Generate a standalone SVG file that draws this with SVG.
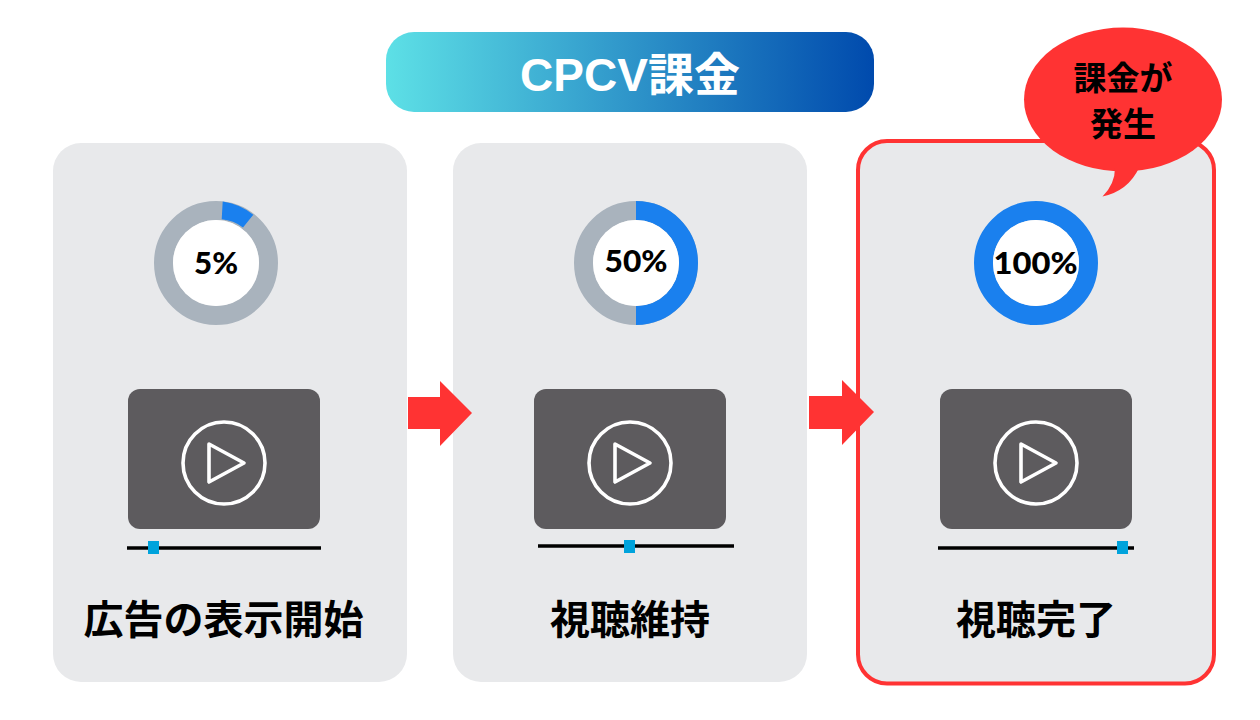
<svg xmlns="http://www.w3.org/2000/svg" width="1260" height="720" viewBox="0 0 1260 720">
<style>
.card{fill:#e8e9eb}
.screen{fill:#5d5b5e}
.pc{fill:none;stroke:#fff;stroke-width:3.6}
.pt{fill:none;stroke:#fff;stroke-width:3.6;stroke-linejoin:round}
.bar{stroke:#000;stroke-width:3.6}
.knob{fill:#00a3dc}
.track{fill:none;stroke:#a9b3bd;stroke-width:19}
.prog{fill:none;stroke:#1a80ee;stroke-width:19}
.hole{fill:#fff}
.arrow{fill:#ff3333}
text{font-family:"Liberation Sans","Noto Sans CJK JP",sans-serif;font-weight:700;text-anchor:middle;fill:#000}
.pct{font-family:"Lato","Liberation Sans",sans-serif;font-weight:900;font-size:30px}
.lab{font-size:40px}
.bub{font-size:33px}
</style>
<defs>
<linearGradient id="hg" x1="0" y1="0" x2="1" y2="0">
<stop offset="0" stop-color="#5de0e6"/>
<stop offset="1" stop-color="#004aad"/>
</linearGradient>
</defs>
<g id="header">
<rect x="386" y="32" width="488" height="80" rx="28" fill="url(#hg)"/>
<text x="630" y="90.500" font-size="46" style="fill:#fff">CPCV課金</text>
</g>
<g id="card-start">
<rect class="card" x="53" y="143" width="354" height="539" rx="28"/>
<circle class="track" cx="216" cy="263" r="52.5"/>
<path d="M222.7 201.4A62 62 0 0 1 253.3 214.7L243 227.4A43 43 0 0 0 221.7 219.3Z" fill="#1a80ee"/>
<circle class="hole" cx="216" cy="263" r="43"/>
<text class="pct" x="216" y="274" textLength="44" lengthAdjust="spacingAndGlyphs">5%</text>
<rect class="screen" x="128" y="389" width="192" height="140" rx="12"/>
<circle class="pc" cx="224" cy="463" r="41"/>
<path class="pt" d="M209 444L244 463L209 482Z"/>
<line class="bar" x1="127" y1="548" x2="321" y2="548"/>
<rect class="knob" x="148" y="541" width="11" height="13"/>
<text class="lab" x="223.500" y="634">広告の表示開始</text>
</g>
<g id="card-keep">
<rect class="card" x="453" y="143" width="354" height="539" rx="28"/>
<circle class="track" cx="636" cy="263" r="52.5"/>
<path class="prog" d="M636 210.500A52.500 52.500 0 0 1 636 315.500"/>
<circle class="hole" cx="636" cy="263" r="43"/>
<text class="pct" x="636" y="272" textLength="63" lengthAdjust="spacingAndGlyphs">50%</text>
<rect class="screen" x="534" y="389" width="192" height="140" rx="12"/>
<circle class="pc" cx="630" cy="463" r="41"/>
<path class="pt" d="M615 444L650 463L615 482Z"/>
<line class="bar" x1="538" y1="546" x2="734" y2="546"/>
<rect class="knob" x="624" y="540" width="11" height="13"/>
<text class="lab" x="630" y="634">視聴維持</text>
</g>
<g id="card-done">
<rect class="card" x="858" y="141" width="356" height="542.500" rx="29" stroke="#ff3333" stroke-width="4"/>
<circle class="prog" cx="1036" cy="263" r="52.5"/>
<circle class="hole" cx="1036" cy="263" r="43"/>
<text class="pct" x="1035.500" y="274" textLength="84" lengthAdjust="spacingAndGlyphs">100%</text>
<rect class="screen" x="940" y="389" width="192" height="140" rx="12"/>
<circle class="pc" cx="1036" cy="463" r="41"/>
<path class="pt" d="M1021 444L1056 463L1021 482Z"/>
<line class="bar" x1="938" y1="548" x2="1134" y2="548"/>
<rect class="knob" x="1117" y="541" width="11" height="13"/>
<text class="lab" x="1036" y="634">視聴完了</text>
</g>
<g id="bubble">
<ellipse class="arrow" cx="1123" cy="99.500" rx="99" ry="72"/>
<path class="arrow" d="M1115 168Q1115 184 1102.500 196.500Q1128 191 1139 168Z"/>
<text class="bub" x="1123" y="90">課金が</text>
<text class="bub" x="1123" y="136">発生</text>
</g>
<g id="connectors">
<path class="arrow" d="M408 397H440V381L472 413L440 446V429H408Z"/>
<path class="arrow" d="M809 396H842V380L874 412L842 445V429H809Z"/>
</g>
</svg>
